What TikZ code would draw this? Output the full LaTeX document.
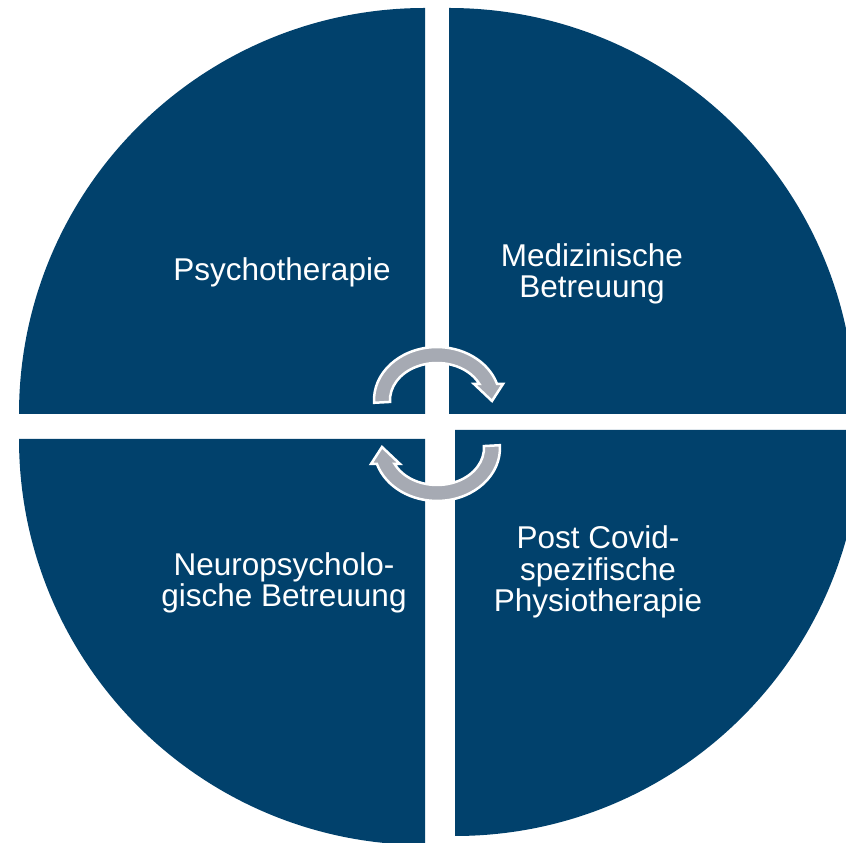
\documentclass[tikz,border=0pt]{standalone}
\usepackage{fontspec}
\setmainfont{Liberation Sans}

\definecolor{QuadBlue}{RGB}{1,65,108}
\definecolor{ArrowGray}{RGB}{166,170,179}

\tikzstyle{quadrant} = [fill=QuadBlue]
\tikzstyle{quadtext} = [text=white, font=\fontsize{31.5}{31.5}\selectfont, align=center, anchor=base, inner sep=0pt]
\tikzstyle{cyclearrow} = [fill=ArrowGray, draw=white, line width=2.5pt, line join=miter]

\begin{document}
\begin{tikzpicture}[x=1pt,y=1pt]
    \useasboundingbox (0,0) rectangle (846,843);
    \clip (0,0) rectangle (846,843);

    % Quadrants
    \fill[quadrant] (425,429) -- (19,429) arc[start angle=180, end angle=90, radius=406pt] -- cycle;
    \fill[quadrant] (449,429) -- (449,835) arc[start angle=90, end angle=0, radius=406pt] -- cycle;
    \fill[quadrant] (425,404) -- (425,-2) arc[start angle=270, end angle=180, radius=406pt] -- cycle;
    \fill[quadrant] (455,413) -- (861,413) arc[start angle=0, end angle=-90, radius=406pt] -- cycle;

    % Cycle arrows
    \filldraw[cyclearrow] (374.1,440.2) arc[start angle=183, end angle=17.6, x radius=63pt, y radius=53pt]
        -- (503,459) -- (492,442) -- (474,459) -- (479.4,459)
        arc[start angle=25.6, end angle=183, x radius=47pt, y radius=37pt] -- cycle;
    \begin{scope}[rotate around={180:(437,419)}]
        \filldraw[cyclearrow] (374.1,440.2) arc[start angle=183, end angle=17.6, x radius=63pt, y radius=53pt]
            -- (503,459) -- (492,442) -- (474,459) -- (479.4,459)
            arc[start angle=25.6, end angle=183, x radius=47pt, y radius=37pt] -- cycle;
    \end{scope}

    % Labels (base = last line)
    \node[quadtext] (psycho) at (282,562) {Psychotherapie};
    \node[quadtext] (medizin) at (592,545) {Medizinische\\Betreuung};
    \node[quadtext] (neuro) at (284,236) {Neuropsycholo-\\gische Betreuung};
    \node[quadtext] (physio) at (598,231) {Post Covid-\\spezifische\\Physiotherapie};
\end{tikzpicture}
\end{document}
